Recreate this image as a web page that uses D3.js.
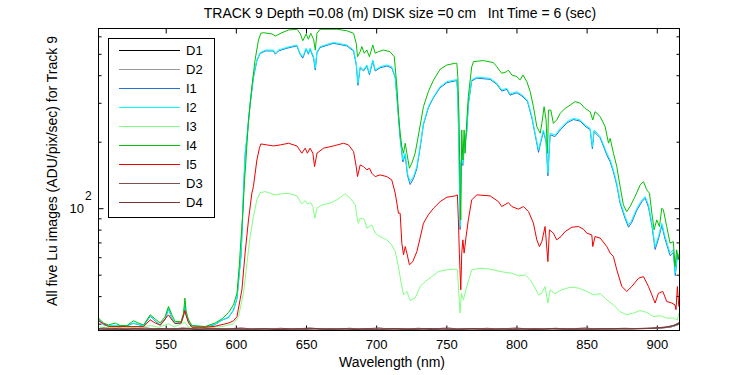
<!DOCTYPE html>
<html>
<head>
<meta charset="utf-8">
<script src="https://cdn.jsdelivr.net/npm/d3@7"></script>
<style>
  body { margin: 0; background: #fff; }
  svg { display: block; font-family: "Liberation Sans", Arial, sans-serif; }
</style>
</head>
<body>
<svg id="chart" width="750" height="375"></svg>
<script>
'use strict';

const titleText = 'TRACK 9 Depth =0.08 (m) DISK size =0 cm   Int Time = 6 (sec)';
const xLabel = 'Wavelength (nm)';
const yLabel = 'All five Lu images (ADU/pix/sec) for Track 9';
const xTicks = [550, 600, 650, 700, 750, 800, 850, 900];
const yMajorTicks = [100];
const yMinorTicks = [30, 40, 50, 60, 70, 80, 90, 200, 300, 400, 500, 600];
const xRange = [502.1, 916.2];
const yRange = [27.94, 651];

const seriesNames = ['D1', 'D2', 'I1', 'I2', 'I3', 'I4', 'I5', 'D3', 'D4'];
const seriesColors = ['#000000', '#999999', '#2272d8', '#00ffff', '#80ff80', '#00c000', '#f00000', '#805050', '#803434'];

// [wavelength nm, ADU/pix/sec]
const d1 = [[502.1,28.4],[515,28.3],[530,28.4],[545,28.3],[560,28.5],[575,28.3],[590,28.4],[605,28.3],[620,28.4],[635,28.3],[650,28.5],[665,28.3],[680,28.4],[695,28.3],[710,28.4],[725,28.3],[740,28.5],[755,28.3],[770,28.4],[785,28.3],[800,28.4],[815,28.3],[830,28.5],[845,28.3],[860,28.4],[875,28.4],[890,28.5],[900,28.6],[906,28.8],[910,29.0],[913,29.4],[916.1,29.9]];
const d2 = [[502.1,28.3],[512,28.4],[527,28.3],[542,28.5],[557,28.3],[572,28.4],[587,28.3],[602,28.4],[617,28.3],[632,28.5],[647,28.3],[662,28.4],[677,28.3],[692,28.4],[707,28.3],[722,28.5],[737,28.3],[752,28.4],[767,28.3],[782,28.4],[797,28.3],[812,28.5],[827,28.3],[842,28.4],[857,28.3],[872,28.4],[887,28.5],[899,28.6],[905,28.7],[910,29.0],[913,29.3],[916.1,29.8]];
const i1 = [[502.1,31.4],[505.7,29.6],[509.3,29.3],[517.6,29.3],[522.3,29.3],[527.0,30.1],[534.2,29.3],[539.0,32.4],[542.5,30.8],[546.1,29.5],[549.6,31.3],[552.0,35.0],[554.4,31.7],[556.7,30.1],[561.0,30.3],[562.7,32.4],[563.7,36.2],[564.6,32.7],[566.3,30.6],[568.7,29.3],[578.1,29.0],[585.2,29.7],[590.0,31.1],[594.8,32.0],[598.3,34.5],[600.8,38.9],[602.4,50.2],[603.8,62],[605.0,100],[606.6,175],[607.9,208],[610.2,295],[612.5,390],[615.0,465],[617.3,502],[621.0,515],[626.8,515],[628.1,498],[630.4,515],[636.4,530],[643.5,543],[645.8,498],[647.7,478],[650.1,525],[651.7,498],[652.9,525],[655.4,478],[656.6,422],[657.8,506],[660.1,534],[669.6,558],[679.1,543],[683.9,515],[685.8,446],[687.0,360],[688.6,432],[691.0,418],[693.4,440],[695.2,402],[697.6,464],[699.3,418],[702.8,432],[707.6,440],[711.1,432],[713.6,390],[715.2,295],[717.1,207],[719.0,162],[720.7,174],[722.3,141],[724.2,128],[726.6,136],[729.0,151],[731.3,187],[733.7,239],[737.2,285],[740.9,317],[745.6,351],[750.4,370],[756.3,377],[757.5,379],[758.2,326],[759.1,174],[759.8,80],[760.5,161],[761.8,156],[762.7,186],[764.6,222],[765.7,295],[768.1,377],[771.7,388],[781.2,383],[786.0,364],[789.5,339],[793.1,345],[795.4,325],[800.3,333],[803.9,322],[807.8,305],[811.0,256],[813.3,215],[815.7,179],[817.4,200],[819.2,222],[821.1,200],[822.4,140],[824.0,215],[827.5,211],[831.2,226],[835.9,243],[840.6,252],[845.4,248],[848.9,235],[852.5,227],[854.1,186],[855.3,222],[859.7,208],[864.4,174],[866.8,162],[869.1,146],[871.5,127],[873.9,105],[877.5,89.5],[879.9,82],[882.3,86.5],[885.8,98],[889.4,107],[891.7,111],[894.1,101],[896.5,83.5],[898.8,65],[901.2,72.5],[903.6,83.5],[905.9,72.5],[909.5,61],[911.8,63],[913.2,49.5],[914.7,61],[916.1,59]];
const i2 = [[502.1,31.5],[506,29.6],[510,29.4],[518,29.4],[522.3,29.4],[527.0,30.2],[534.2,29.4],[539.0,32.6],[542.5,30.9],[546.1,29.6],[549.6,31.5],[552.0,35.3],[554.4,31.8],[556.7,30.2],[561.0,30.4],[562.7,32.6],[563.7,36.5],[564.6,32.9],[566.3,30.7],[568.7,29.4],[578.1,29.1],[585.2,29.8],[590.0,31.2],[594.8,32.1],[598.3,34.7],[600.8,39.2],[602.4,50.8],[603.8,62.6],[605.0,101.7],[606.6,177.4],[607.9,210.9],[610.2,298.6],[612.5,394],[615.0,469],[617.3,506],[621.0,520],[626.8,520],[628.1,503],[630.4,520],[636.4,535],[643.5,548],[645.8,503],[647.7,485],[650.1,530],[651.7,503],[652.9,530],[655.4,485],[656.6,430],[657.8,511],[660.1,539],[669.6,563],[679.1,548],[683.9,520],[685.8,453],[687.0,368],[688.6,437],[691.0,422.5],[693.4,445],[695.2,408],[697.6,469],[699.3,422.5],[702.8,437],[707.6,445],[711.1,437],[713.6,394],[715.2,299],[717.1,211],[719.0,165.4],[720.7,177.4],[722.3,144],[724.2,131.9],[726.6,139],[729.0,154.2],[731.3,190],[733.7,242],[737.2,288],[740.9,320],[745.6,355],[750.4,374],[756.3,381],[757.5,383.5],[758.2,331],[759.1,177.4],[759.8,82.6],[760.5,165.4],[761.8,159.8],[762.7,190],[764.6,226],[765.7,299],[768.1,381],[771.7,392],[781.2,387.5],[786.0,368],[789.5,343],[793.1,349],[795.4,329],[800.3,337],[803.9,326],[807.8,309],[811.0,260],[813.3,218.5],[815.7,183.6],[817.4,203.7],[819.2,226],[821.1,203.7],[822.4,144],[824.0,218.5],[827.5,214.6],[831.2,230],[835.9,246.5],[840.6,255.5],[845.4,251],[848.9,238],[852.5,230],[854.1,190],[855.3,226],[859.7,211],[864.4,177.4],[866.8,165.4],[869.1,149],[871.5,129.7],[873.9,107.1],[877.5,91.6],[879.9,84],[882.3,88.5],[885.8,100],[889.4,109],[891.7,112.8],[894.1,103.5],[896.5,85.5],[898.8,67],[901.2,74.4],[903.6,85.5],[905.9,74.4],[909.5,62.6],[911.8,64.8],[913.2,50.8],[914.7,62.6],[916.1,60.4]];
const i3 = [[502.1,29.0],[510,28.8],[520,28.9],[530,28.8],[539.0,29.4],[545,28.9],[552.0,30.0],[556,29.0],[563.7,30.5],[566,29.0],[578,28.8],[590.0,29.1],[598.3,30.0],[601.9,32.3],[605.4,41.2],[607.9,56.4],[610.2,74.4],[612.5,91.6],[615.0,109],[617.3,117.6],[621.0,118.9],[624.5,116.9],[628.1,114.9],[632.8,116.1],[637.5,116.9],[643.5,113.7],[647.0,104.6],[649.4,108.2],[651.0,104.6],[653.4,106],[654.9,101.7],[656.3,90.1],[657.8,100],[661.3,103.5],[667.2,105.3],[672.0,109],[677.9,116.1],[681.5,111],[685.1,103.5],[686.3,91.6],[687.2,85.5],[688.6,90.1],[691.5,89.2],[693.4,81.2],[696.9,84],[699.3,77.1],[702.8,74.4],[707.6,71.9],[711.1,68.2],[713.6,63.6],[715.9,54.4],[717.8,45.8],[719.5,40.5],[721.9,42],[724.2,38.2],[727.8,39.2],[731.3,44.2],[734.9,46.5],[739.6,49],[744.4,51.7],[750.4,52.6],[756.3,53],[757.9,52.6],[758.6,44.2],[759.8,33.5],[760.8,41.2],[762.2,38.5],[764.6,44.2],[768.1,52.6],[774.1,53.5],[781.2,53],[788.3,51.7],[793.1,51.1],[796.7,50.8],[801.4,49.4],[806.2,49.9],[809.8,47.4],[813.3,43.5],[815.7,40.5],[818.1,41.2],[820.4,44.2],[822.4,37.2],[824.0,42.7],[827.5,41],[832.4,42.7],[838.3,43.9],[844.2,43.5],[850.1,42],[854.8,40.5],[859.7,41],[864.4,38.5],[869.1,36.5],[873.9,34],[878.6,32.9],[883.4,33.5],[888.2,34.4],[892.9,33.7],[897.6,32.3],[902.4,32.6],[907.1,31.8],[911.8,31.8],[914.7,31.2],[915.7,33.5]];
const i4 = [[502.1,31.8],[505.7,30.2],[509.3,29.6],[514.0,30.2],[517.6,29.4],[522.3,29.4],[527.0,30.9],[530.6,30.2],[534.2,29.6],[539.0,32.9],[542.5,31.5],[546.1,30.2],[549.6,32.3],[552.0,35.9],[554.4,32.9],[556.7,30.7],[561.0,30.7],[562.7,33.5],[563.7,39.2],[564.6,34.0],[566.3,31.2],[568.7,29.4],[578.1,29.1],[585.2,30.2],[590.0,31.5],[594.8,33.7],[598.3,36.5],[600.8,41.2],[602.4,54.4],[603.6,71.9],[605.0,95],[606.2,134],[606.6,144],[609.0,251],[611.4,355],[613.7,469],[616.1,577],[617.8,619],[619.6,623],[625.7,615],[628.1,602],[632.8,623],[637.5,641],[643.5,646],[645.8,619],[647.7,573],[650.1,615],[651.7,582],[653.4,619],[655.4,582],[656.6,520],[657.8,619],[660.1,646],[672.0,646],[679.1,636],[683.9,619],[685.8,558],[686.7,485],[688.6,511],[689.8,539],[691.5,503],[693.4,520],[695.2,485],[697.6,548],[699.3,503],[701.6,511],[705.2,520],[709.9,511],[712.9,485],[714.8,355],[715.9,269],[717.1,218.5],[718.3,190],[719.5,177.4],[720.7,196.8],[721.9,177.4],[723.7,151.7],[725.4,159.8],[727.8,177.4],[730.8,226],[733.7,288],[737.2,337],[740.9,380.7],[745.6,425.6],[750.4,445],[756.3,453],[757.5,453],[758.2,394],[759.1,251],[759.8,125.2],[760.3,88.5],[761.0,226],[761.8,165.4],[762.7,226],[763.4,177.4],[764.6,251],[765.7,320],[768.1,437],[769.4,461],[776.5,466],[783.6,456],[786.0,437],[789.5,408],[793.1,415],[794.2,422],[796.7,401],[800.3,394],[802.6,381],[804.6,401],[807.4,374],[809.8,337],[812.1,288],[814.5,234],[816.9,218.5],[818.1,242],[819.7,288],[821.1,251],[822.1,177.4],[822.8,278],[824.5,278],[826.3,242],[828.7,251],[831.2,269],[834.7,283],[838.3,293],[841.8,304],[845.4,299],[848.9,283],[852.5,273.5],[854.4,251],[856.0,273.5],[859.7,260],[863.2,234],[865.6,197],[866.8,207],[869.1,177.4],[871.5,154.2],[873.9,125.2],[876.2,103.5],[878.6,96.5],[881.0,101.7],[884.5,112.8],[888.2,127.5],[890.5,131.9],[892.9,121],[894.8,116.9],[896.5,94.9],[898.1,79.8],[900.0,88.5],[901.9,82.6],[903.6,100],[904.7,98.2],[907.1,82.6],[909.5,69.4],[911.8,70.6],[913.0,54.4],[914.2,64.8],[915.4,58.4],[916.1,62.6]];
const i5 = [[502.1,30.9],[505.7,30.0],[509.3,29.1],[522.3,29.1],[534.2,29.1],[539.0,31.2],[542.5,30.2],[546.1,29.6],[552.0,32.9],[554.4,31.2],[556.7,30.0],[561.0,30.2],[563.7,34.4],[564.6,32.6],[566.3,30.2],[568.7,28.9],[578.1,28.9],[585.2,29.2],[594.8,30.2],[598.3,30.9],[600.8,32.3],[603.0,38.5],[604.3,42.7],[606.6,62.6],[609.0,88.5],[611.4,116.9],[612.5,125.2],[615.0,165.4],[616.8,186.9],[617.8,195.4],[622.2,193.4],[626.8,191.4],[631.6,193.4],[637.5,196.8],[643.5,191.4],[647.0,177.4],[649.4,186.9],[651.0,177.4],[652.9,186.9],[654.9,177.4],[656.1,154.2],[657.8,177.4],[662.5,186.9],[669.6,191.4],[676.7,196.8],[680.3,193.4],[683.9,180.4],[685.8,154.2],[686.7,139],[688.6,157],[691.0,154.2],[693.4,149],[695.2,151.7],[696.9,144],[699.3,139],[702.8,141.5],[707.6,139],[711.1,134.3],[713.6,116.9],[715.9,94.9],[717.1,94.9],[718.3,69.4],[719.5,61.5],[720.7,67],[721.9,62.6],[723.7,55.4],[726.1,57.3],[729.0,63.6],[731.3,73.2],[733.7,85.5],[737.2,93.3],[740.9,100],[745.6,107.1],[750.4,112.1],[756.3,113.7],[757.9,114.9],[758.6,88.5],[759.3,62.6],[760.3,42.7],[761.0,62.6],[761.8,71.9],[762.7,62.6],[764.1,74.4],[765.7,88.5],[768.1,109],[771.7,114.9],[781.2,113.7],[787.2,107.1],[789.5,101.7],[794.2,106],[796.7,101.7],[801.4,99],[805.0,101.7],[808.6,96.5],[812.1,85.5],[814.5,71.9],[816.4,67],[818.1,70.6],[820.4,82.6],[822.4,57.3],[823.5,79.8],[826.3,77.1],[828.7,71.9],[831.7,74.4],[834.7,78.4],[839.5,82],[844.2,82.6],[847.7,80.4],[850.1,77.1],[853.7,75.7],[854.4,67],[856.0,74.4],[859.7,73.2],[864.4,67],[866.8,62.6],[869.1,60.4],[871.5,52.6],[875.1,44.2],[878.6,42],[882.2,44.2],[887.0,48.2],[890.5,49],[894.1,44.2],[896.5,40.5],[898.8,37.2],[901.2,41.2],[904.3,42],[907.1,37.8],[910.7,37.2],[913.0,36.5],[913.7,34.7],[914.7,44.2],[915.7,35.9]];
const d3s = [[502.1,28.5],[506,28.7],[511,28.4],[517,28.6],[523,28.4],[529,28.5],[536,28.7],[542,28.4],[549,28.5],[556,28.4],[562,28.7],[569,28.5],[576,28.4],[583,28.6],[590,28.4],[597,28.5],[604,28.7],[611,28.4],[618,28.5],[625,28.4],[632,28.6],[639,28.4],[646,28.5],[653,28.7],[660,28.4],[667,28.5],[674,28.4],[681,28.6],[688,28.4],[695,28.5],[702,28.7],[709,28.4],[716,28.5],[723,28.4],[730,28.6],[737,28.4],[744,28.5],[751,28.7],[758,28.4],[765,28.5],[772,28.4],[779,28.6],[786,28.4],[793,28.5],[800,28.7],[807,28.4],[814,28.5],[821,28.4],[828,28.6],[835,28.4],[842,28.5],[849,28.7],[856,28.4],[863,28.5],[870,28.5],[877,28.6],[884,28.5],[891,28.6],[897,28.7],[902,28.8],[906,29.0],[909,29.2],[912,29.5],[914,29.9],[916.1,30.4]];
const d4 = [[502.1,28.4],[508,28.3],[514,28.4],[520,28.2],[527,28.4],[533,28.3],[540,28.3],[546,28.5],[553,28.3],[560,28.3],[566,28.4],[573,28.2],[580,28.4],[587,28.3],[594,28.3],[601,28.5],[608,28.3],[615,28.3],[622,28.4],[629,28.2],[636,28.4],[643,28.3],[650,28.3],[657,28.5],[664,28.3],[671,28.3],[678,28.4],[685,28.2],[692,28.4],[699,28.3],[706,28.3],[713,28.5],[720,28.3],[727,28.3],[734,28.4],[741,28.2],[748,28.4],[755,28.3],[762,28.3],[769,28.5],[776,28.3],[783,28.3],[790,28.4],[797,28.2],[804,28.4],[811,28.3],[818,28.3],[825,28.5],[832,28.3],[839,28.3],[846,28.4],[853,28.3],[860,28.4],[867,28.4],[874,28.5],[881,28.4],[888,28.5],[895,28.5],[900,28.7],[905,28.8],[909,29.1],[912,29.4],[914,29.8],[916.1,30.3]];

const seriesData = [d1, d2, i1, i2, i3, i4, i5, d3s, d4];

const plot = {left: 98.5, right: 679.5, top: 28.5, bottom: 330.5};

function styleAxis(g) {
  g.attr('font-family', null).attr('font-size', 13);
  g.select('.domain').remove();
  g.selectAll('.tick line').attr('stroke', '#000');
  g.selectAll('.tick text').attr('fill', '#000');
}

function drawChart() {
  const svg = d3.select('#chart');

  const x = d3.scaleLinear().domain(xRange).range([plot.left, plot.right]);
  const y = d3.scaleLog().domain(yRange).range([plot.bottom, plot.top]);

  svg.append('defs').append('clipPath').attr('id', 'plot-clip')
    .append('rect')
      .attr('x', plot.left)
      .attr('y', plot.top)
      .attr('width', plot.right - plot.left)
      .attr('height', plot.bottom - plot.top);

  // ticks point inwards on all four sides, matlab style
  svg.append('g')
    .attr('transform', `translate(0,${plot.bottom})`)
    .call(d3.axisBottom(x).tickValues(xTicks).tickSizeInner(-5).tickSizeOuter(0).tickPadding(9))
    .call(styleAxis);

  svg.append('g')
    .attr('transform', `translate(0,${plot.top})`)
    .call(d3.axisTop(x).tickValues(xTicks).tickSizeInner(-5).tickSizeOuter(0).tickFormat(''))
    .call(styleAxis);

  const sides = [
    {axis: d3.axisLeft, at: plot.left},
    {axis: d3.axisRight, at: plot.right},
  ];
  for (const side of sides) {
    svg.append('g')
      .attr('transform', `translate(${side.at},0)`)
      .call(side.axis(y).tickValues(yMinorTicks).tickSizeInner(-3).tickSizeOuter(0).tickFormat(''))
      .call(styleAxis);
    svg.append('g')
      .attr('transform', `translate(${side.at},0)`)
      .call(side.axis(y).tickValues(yMajorTicks).tickSizeInner(-5).tickSizeOuter(0).tickFormat(''))
      .call(styleAxis);
  }

  // 10^2 label
  for (const v of yMajorTicks) {
    const ty = y(v);
    svg.append('text')
      .attr('x', 84)
      .attr('y', ty + 4.5)
      .attr('text-anchor', 'end')
      .attr('font-size', 13)
      .text('10');
    svg.append('text')
      .attr('x', 85)
      .attr('y', ty - 8)
      .attr('font-size', 12)
      .text(String(Math.round(Math.log10(v))));
  }

  const line = d3.line()
    .x((d) => x(d[0]))
    .y((d) => y(d[1]));

  svg.append('g')
    .attr('clip-path', 'url(#plot-clip)')
    .selectAll('path')
    .data(seriesData)
    .enter()
    .append('path')
      .attr('d', line)
      .attr('fill', 'none')
      .attr('stroke', (d, i) => seriesColors[i])
      .attr('stroke-width', 1);

  svg.append('rect')
    .attr('x', plot.left)
    .attr('y', plot.top)
    .attr('width', plot.right - plot.left)
    .attr('height', plot.bottom - plot.top)
    .attr('fill', 'none')
    .attr('stroke', '#000');

  // legend box
  const legend = svg.append('g');
  legend.append('rect')
    .attr('x', 108.5)
    .attr('y', 38.5)
    .attr('width', 106)
    .attr('height', 179)
    .attr('fill', '#fff')
    .attr('stroke', '#000');

  const rows = legend.selectAll('g.row')
    .data(seriesNames)
    .enter()
    .append('g')
      .attr('class', 'row')
      .attr('transform', (d, i) => `translate(0,${50.5 + i * 19})`);

  rows.append('line')
    .attr('x1', 119)
    .attr('x2', 180)
    .attr('stroke', (d, i) => seriesColors[i]);

  rows.append('text')
    .attr('x', 186)
    .attr('dy', '0.35em')
    .attr('font-size', 13)
    .text((d) => d);

  svg.append('text')
    .attr('x', 400)
    .attr('y', 18)
    .attr('text-anchor', 'middle')
    .attr('font-size', 14)
    .style('white-space', 'pre')
    .text(titleText);

  svg.append('text')
    .attr('x', 392)
    .attr('y', 367)
    .attr('text-anchor', 'middle')
    .attr('font-size', 14)
    .text(xLabel);

  svg.append('text')
    .attr('transform', 'translate(57,171) rotate(-90)')
    .attr('text-anchor', 'middle')
    .attr('font-size', 14)
    .text(yLabel);
}

document.addEventListener('DOMContentLoaded', function(event) {
  drawChart();
});
</script>
</body>
</html>
